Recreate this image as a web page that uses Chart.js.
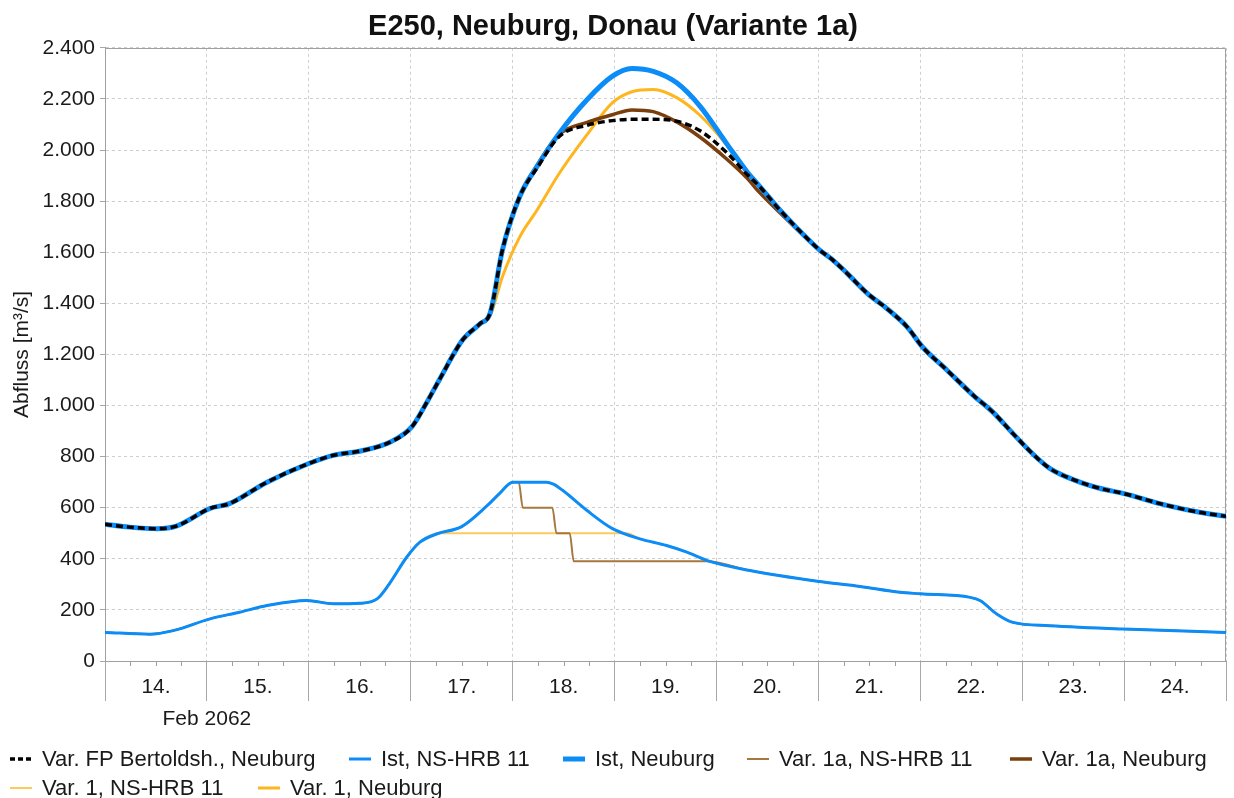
<!DOCTYPE html>
<html><head><meta charset="utf-8">
<script src="https://cdn.jsdelivr.net/npm/chart.js@4.4.1/dist/chart.umd.min.js"></script>
<style>html,body{margin:0;padding:0;background:#fff;overflow:hidden}#wrap{width:1234px;height:798px;position:relative}</style>
</head><body><div id="wrap"><canvas id="c"></canvas></div>
<script>
// ---- data (x in days since 14 Feb 2062 00:00, y in m³/s) ----
const chartTitle = 'E250, Neuburg, Donau (Variante 1a)';
const yTitle = 'Abfluss [m³/s]';
const dayLabels = ['14.','15.','16.','17.','18.','19.','20.','21.','22.','23.','24.'];
const dayTicks = [0,1,2,3,4,5,6,7,8,9,10,11];
const monthLabel = 'Feb 2062';
const monthLabelAt = 1;

const mainDays = [0,0.24,0.51,0.70,1.03,1.22,1.59,2.00,2.24,2.51, 2.80,3.01,3.17,3.28,3.51,3.68,3.78,3.90,4.07,4.24, 4.46,4.73,4.98,5.17,5.38,5.61,5.84,6.10,6.30,6.42, 6.62,6.79,7.01,7.14,7.28,7.48,7.67,7.87,8.02,8.26, 8.52,8.71,8.91,9.10,9.27,9.52,9.76,9.99,10.42,10.74, 11.0];
const istNeuburg = [535,524,518,528,597,616,700,773,805,822, 857,916,1021,1100,1257,1320,1363,1609,1818,1936, 2067,2197,2289,2319,2308,2263,2171,2025,1915,1860, 1766,1694,1609,1570,1518,1439,1380,1308,1230,1139, 1040,975,890,812,754,707,676,656,609,582, 566];
const varFPNeuburg = [535,524,518,528,597,616,700,773,805,822, 857,916,1021,1100,1257,1320,1363,1609,1818,1930, 2054,2097,2115,2120,2120,2113,2075,1990,1905,1858, 1766,1694,1609,1570,1518,1439,1380,1308,1230,1139, 1040,975,890,812,754,707,676,656,609,582, 566];
const var1aNeuburg = [535,524,518,528,597,616,700,773,805,822, 857,916,1021,1100,1257,1320,1363,1609,1818,1940, 2062,2108,2138,2157,2150,2110,2050,1965,1890,1835, 1755,1690,1609,1570,1518,1439,1380,1308,1230,1139, 1040,975,890,812,754,707,676,656,609,582, 566];
const var1Neuburg = [535,524,518,528,597,616,700,773,805,822, 857,916,1021,1100,1257,1320,1352,1504,1660,1765, 1910,2060,2185,2228,2237,2205,2135,2020,1915,1860, 1766,1694,1609,1570,1518,1439,1380,1308,1230,1139, 1040,975,890,812,754,707,676,656,609,582, 566];

const hrbDays = [0,0.44,0.67,1.03,1.32,1.59,1.98,2.24,2.50,2.67, 2.79,2.96,3.09,3.26,3.50,3.75,3.87,4.00,4.33,4.40, 4.49,4.73,4.98,5.25,5.51,5.71,5.91,6.33,6.99,7.41, 7.80,8.00,8.49,8.59,8.75,8.91,9.27,9.99,11.0];
const istHrb = [112,105,119,165,191,217,237,224,226,243, 302,406,465,498,526,608,655,700,700,692, 668,589,518,478,452,426,393,354,312,292, 269,263,249,236,184,151,138,125,112];

const var1aHrbDays = [0,0.44,0.67,1.03,1.32,1.59,1.98,2.24,2.50,2.67, 2.79,2.96,3.09,3.26,3.50,3.75,3.87,4.00,4.06,4.10, 4.39,4.43,4.56,4.60,5.90,6.33,6.99,7.41,7.80,8.00, 8.49,8.59,8.75,8.91,9.27,9.99,11.0];
const var1aHrb = [112,105,119,165,191,217,237,224,226,243, 302,406,465,498,526,608,655,700,700,600, 600,500,500,390,390,354,312,292,269,263, 249,236,184,151,138,125,112];

const var1HrbDays = [0,0.44,0.67,1.03,1.32,1.59,1.98,2.24,2.50,2.67, 2.79,2.96,3.09,3.28,5.12,5.25,5.51,5.71,5.91,6.33, 6.99,7.41,7.80,8.00,8.49,8.59,8.75,8.91,9.27,9.99, 11.0];
const var1Hrb = [112,105,119,165,191,217,237,224,226,243, 302,406,465,500,500,478,452,426,393,354, 312,292,269,263,249,236,184,151,138,125, 112];

const seriesLabels = ['Var. FP Bertoldsh., Neuburg','Ist, NS-HRB 11','Ist, Neuburg','Var. 1a, NS-HRB 11','Var. 1a, Neuburg','Var. 1, NS-HRB 11','Var. 1, Neuburg'];

// ---- chart ----
const FONT = '"Liberation Sans", Arial, sans-serif';
const TXT = '#1a1a1a';
const pts = (xs, ys) => xs.map((x, i) => ({x: x, y: ys[i]}));
const fmt = v => String(v).replace(/\B(?=(\d{3})+(?!\d))/g, '.');

function ds(label, data, color, width, dash) {
  return {label, data, borderColor: color, backgroundColor: color, borderWidth: width,
    borderDash: dash || [], pointRadius: 0, pointHoverRadius: 0, fill: false,
    cubicInterpolationMode: 'monotone', borderJoinStyle: 'round', borderCapStyle: 'butt'};
}

const legendPos = [[10,759],[349,759],[563,759],[747,759],[1010,759],[10,788],[258,788]];

const decor = {
  id: 'decor',
  beforeDatasetsDraw(chart) {
    const {ctx, chartArea: a} = chart;
    ctx.save();
    ctx.strokeStyle = '#a0a0a0'; ctx.lineWidth = 1;
    ctx.beginPath();
    ctx.moveTo(Math.round(a.left), Math.round(a.top) + 0.5);
    ctx.lineTo(Math.round(a.right) - 0.5, Math.round(a.top) + 0.5);
    ctx.lineTo(Math.round(a.right) - 0.5, Math.round(a.bottom));
    ctx.stroke();
    ctx.restore();
  },
  afterDraw(chart) {
    const {ctx, chartArea: a} = chart;
    const xs = chart.scales.x;
    ctx.save();
    // minor 6-hour ticks
    ctx.strokeStyle = '#a0a0a0'; ctx.lineWidth = 1;
    ctx.beginPath();
    for (let k = 1; k < 44; k++) {
      if (k % 4 === 0) continue;
      const px = Math.round(xs.getPixelForValue(k / 4)) + 0.5;
      ctx.moveTo(px, a.bottom); ctx.lineTo(px, a.bottom + 5);
    }
    ctx.stroke();
    // month label
    ctx.fillStyle = TXT;
    ctx.font = '21px ' + FONT;
    ctx.textAlign = 'center'; ctx.textBaseline = 'middle';
    ctx.fillText(monthLabel, xs.getPixelForValue(monthLabelAt), 719);
    // legend
    ctx.textAlign = 'left';
    ctx.font = '22px ' + FONT;
    chart.data.datasets.forEach((d, i) => {
      const [lx, ly] = legendPos[i];
      ctx.save();
      ctx.strokeStyle = d.borderColor;
      ctx.lineWidth = Math.min(d.borderWidth, 5);
      ctx.setLineDash(d.borderDash.length ? [5, 3] : []);
      ctx.beginPath(); ctx.moveTo(lx, ly); ctx.lineTo(lx + 22, ly); ctx.stroke();
      ctx.restore();
      ctx.fillStyle = TXT;
      ctx.fillText(d.label, lx + 32, ly + 1);
    });
    ctx.restore();
  }
};

new Chart(document.getElementById('c'), {
  type: 'line',
  data: {
    datasets: [
      ds(seriesLabels[0], pts(mainDays, varFPNeuburg), '#000000', 3.5, [7, 4]),
      ds(seriesLabels[1], pts(hrbDays, istHrb), '#0c8cf7', 3),
      ds(seriesLabels[2], pts(mainDays, istNeuburg), '#0c8cf7', 5),
      ds(seriesLabels[3], pts(var1aHrbDays, var1aHrb), '#a8773f', 2),
      ds(seriesLabels[4], pts(mainDays, var1aNeuburg), '#7a3f0c', 3.5),
      ds(seriesLabels[5], pts(var1HrbDays, var1Hrb), '#ffc95e', 2),
      ds(seriesLabels[6], pts(mainDays, var1Neuburg), '#ffb51e', 3)
    ]
  },
  options: {
    responsive: true, maintainAspectRatio: false, animation: false,
    layout: {padding: {left: 0, right: 8, top: 0, bottom: 77}},
    plugins: {
      legend: {display: false},
      tooltip: {enabled: false},
      title: {display: true, text: chartTitle, color: '#111', font: {family: FONT, size: 29, weight: 'bold'}, padding: {top: 10, bottom: 3}}
    },
    scales: {
      x: {
        type: 'linear', min: 0, max: 11,
        afterBuildTicks: s => { s.ticks = dayTicks.map(v => ({value: v})); },
        afterFit: s => { s.height = 60; },
        grid: {color: '#cfcfcf', lineWidth: 1, tickLength: 40, tickColor: '#a8a8a8', tickWidth: 1, tickBorderDash: []},
        border: {color: '#a0a0a0', width: 1, dash: [3, 3]},
        ticks: {callback: (v, i) => dayLabels[i] || '', labelOffset: 51, padding: -26, maxRotation: 0, autoSkip: false,
                font: {family: FONT, size: 21}, color: TXT}
      },
      y: {
        min: 0, max: 2400,
        afterFit: s => { s.width = 105; },
        grid: {color: '#cfcfcf', lineWidth: 1, tickLength: 5, tickColor: '#a8a8a8', tickBorderDash: []},
        border: {color: '#a0a0a0', width: 1, dash: [3, 3]},
        ticks: {stepSize: 200, callback: v => fmt(v), padding: 5, font: {family: FONT, size: 21}, color: TXT},
        title: {display: true, text: yTitle, font: {family: FONT, size: 21}, color: TXT, padding: {top: 10, bottom: 0}}
      }
    }
  },
  plugins: [decor]
});
</script>
</body></html>
